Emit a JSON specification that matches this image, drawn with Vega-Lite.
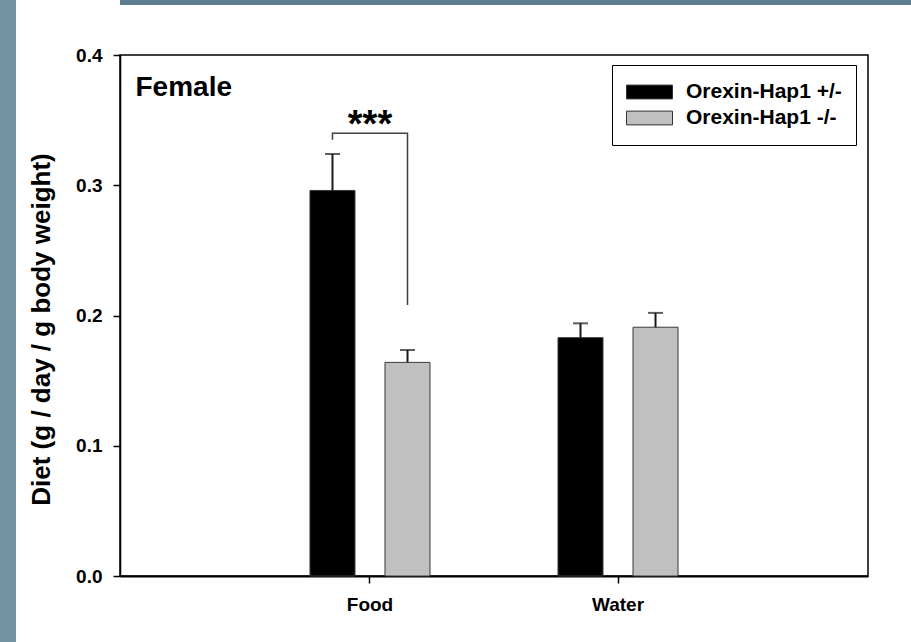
{
  "$schema": "https://vega.github.io/schema/vega-lite/v6.json",
  "background": "white",
  "padding": 0,
  "spacing": 11,
  "config": {
    "font": "Liberation Sans",
    "view": {"stroke": "black", "strokeWidth": 1.5}
  },
  "datasets": {
    "bars": [
      {"diet": "Food", "genotype": "Orexin-Hap1 +/-", "mean": 0.296, "upper": 0.324},
      {"diet": "Food", "genotype": "Orexin-Hap1 -/-", "mean": 0.164, "upper": 0.1735},
      {"diet": "Water", "genotype": "Orexin-Hap1 +/-", "mean": 0.183, "upper": 0.194},
      {"diet": "Water", "genotype": "Orexin-Hap1 -/-", "mean": 0.191, "upper": 0.202}
    ],
    "bracket": [
      {"diet": "Food", "genotype": "Orexin-Hap1 +/-", "level": 0.335, "step": 1},
      {"diet": "Food", "genotype": "Orexin-Hap1 +/-", "level": 0.34, "step": 2},
      {"diet": "Food", "genotype": "Orexin-Hap1 -/-", "level": 0.34, "step": 3},
      {"diet": "Food", "genotype": "Orexin-Hap1 -/-", "level": 0.208, "step": 4}
    ],
    "stars": [
      {"diet": "Food", "label": "***", "level": 0.337}
    ]
  },
  "hconcat": [
    {
      "width": 16,
      "height": 642,
      "data": {"values": []},
      "mark": "point",
      "view": {"fill": "#7393a5", "stroke": null}
    },
    {
      "columns": 1,
      "align": "none",
      "spacing": 40,
      "concat": [
        {
          "width": 883,
          "height": 5,
          "data": {"values": []},
          "mark": "point",
          "view": {"fill": "#5f7d91", "stroke": null}
        },
        {
          "width": 748,
          "height": 521,
          "resolve": {"axis": {"x": "independent"}},
          "layer": [
            {
              "data": {"name": "bars"},
              "mark": {"type": "bar", "stroke": "#3a3a3a", "strokeWidth": 1},
              "encoding": {
                "x": {
                  "field": "diet",
                  "type": "nominal",
                  "scale": {"domain": ["Food", "Water"], "paddingInner": 0.516, "paddingOuter": 0.766},
                  "axis": {
                    "title": null,
                    "labelAngle": 0,
                    "domainColor": "black",
                    "domainWidth": 1.8,
                    "tickColor": "black",
                    "tickWidth": 1.5,
                    "tickSize": 7,
                    "labelFont": "Liberation Sans",
                    "labelFontSize": 19,
                    "labelFontWeight": "bold",
                    "labelColor": "black",
                    "labelPadding": 12
                  }
                },
                "xOffset": {
                  "field": "genotype",
                  "type": "nominal",
                  "scale": {"domain": ["Orexin-Hap1 +/-", "Orexin-Hap1 -/-"], "paddingInner": 0.4, "paddingOuter": 0}
                },
                "y": {
                  "field": "mean",
                  "type": "quantitative",
                  "scale": {"domain": [0, 0.4], "nice": false, "zero": true},
                  "axis": {
                    "title": "Diet (g / day / g body weight)",
                    "values": [0, 0.1, 0.2, 0.3, 0.4],
                    "format": ".1f",
                    "grid": false,
                    "domainColor": "black",
                    "domainWidth": 1.5,
                    "tickColor": "black",
                    "tickWidth": 1.5,
                    "tickSize": 7,
                    "labelFont": "Liberation Sans",
                    "labelFontSize": 19,
                    "labelFontWeight": "bold",
                    "labelColor": "black",
                    "labelPadding": 11,
                    "labelFlush": false,
                    "labelOverlap": false,
                    "labelBound": false,
                    "titleFont": "Liberation Sans",
                    "titleFontSize": 26,
                    "titleFontWeight": "bold",
                    "titleColor": "black",
                    "titleAngle": 270,
                    "titleAlign": "center",
                    "titleBaseline": "middle",
                    "titleX": -79,
                    "titleY": 274
                  }
                },
                "color": {
                  "field": "genotype",
                  "type": "nominal",
                  "scale": {"domain": ["Orexin-Hap1 +/-", "Orexin-Hap1 -/-"], "range": ["#000000", "#c0c0c0"]},
                  "legend": {
                    "orient": "none",
                    "legendX": 612,
                    "legendY": 65,
                    "title": null,
                    "symbolType": "M-1,-0.3H1V0.3H-1Z",
                    "symbolSize": 2116,
                    "symbolStrokeColor": "#333333",
                    "symbolStrokeWidth": 1,
                    "symbolOpacity": 1,
                    "clipHeight": 26,
                    "rowPadding": 0,
                    "labelFont": "Liberation Sans",
                    "labelFontSize": 21,
                    "labelFontWeight": "bold",
                    "labelColor": "black",
                    "labelOffset": 13,
                    "labelLimit": 400,
                    "strokeColor": "black",
                    "fillColor": "white",
                    "padding": 14
                  }
                }
              }
            },
            {
              "data": {"name": "bars"},
              "mark": {"type": "rule", "color": "#1a1a1a", "strokeWidth": 2},
              "encoding": {
                "x": {"field": "diet", "type": "nominal", "axis": null},
                "xOffset": {"field": "genotype", "type": "nominal"},
                "y": {"field": "mean", "type": "quantitative"},
                "y2": {"field": "upper"}
              }
            },
            {
              "data": {"name": "bars"},
              "mark": {"type": "tick", "color": "#1a1a1a", "thickness": 2, "size": 15, "orient": "horizontal"},
              "encoding": {
                "x": {"field": "diet", "type": "nominal", "axis": null},
                "xOffset": {"field": "genotype", "type": "nominal"},
                "y": {"field": "upper", "type": "quantitative"}
              }
            },
            {
              "data": {"name": "bracket"},
              "mark": {"type": "line", "color": "#404040", "strokeWidth": 1.5},
              "encoding": {
                "x": {"field": "diet", "type": "nominal", "axis": null},
                "xOffset": {"field": "genotype", "type": "nominal"},
                "y": {"field": "level", "type": "quantitative"},
                "order": {"field": "step", "type": "quantitative"}
              }
            },
            {
              "data": {"name": "stars"},
              "mark": {"type": "text", "fontSize": 38, "fontWeight": "bold", "font": "Liberation Sans", "baseline": "alphabetic", "align": "center", "color": "black"},
              "encoding": {
                "x": {
                  "field": "diet",
                  "type": "nominal",
                  "axis": {
                    "orient": "top",
                    "title": "Female",
                    "labels": false,
                    "ticks": false,
                    "domain": false,
                    "titleX": 15,
                    "titleY": 40,
                    "titleAngle": 0,
                    "titleAlign": "left",
                    "titleAnchor": "start",
                    "titleBaseline": "alphabetic",
                    "titleFont": "Liberation Sans",
                    "titleFontSize": 28,
                    "titleFontWeight": "bold",
                    "titleColor": "black"
                  }
                },
                "y": {"field": "level", "type": "quantitative"},
                "text": {"field": "label"}
              }
            }
          ]
        }
      ]
    }
  ]
}
